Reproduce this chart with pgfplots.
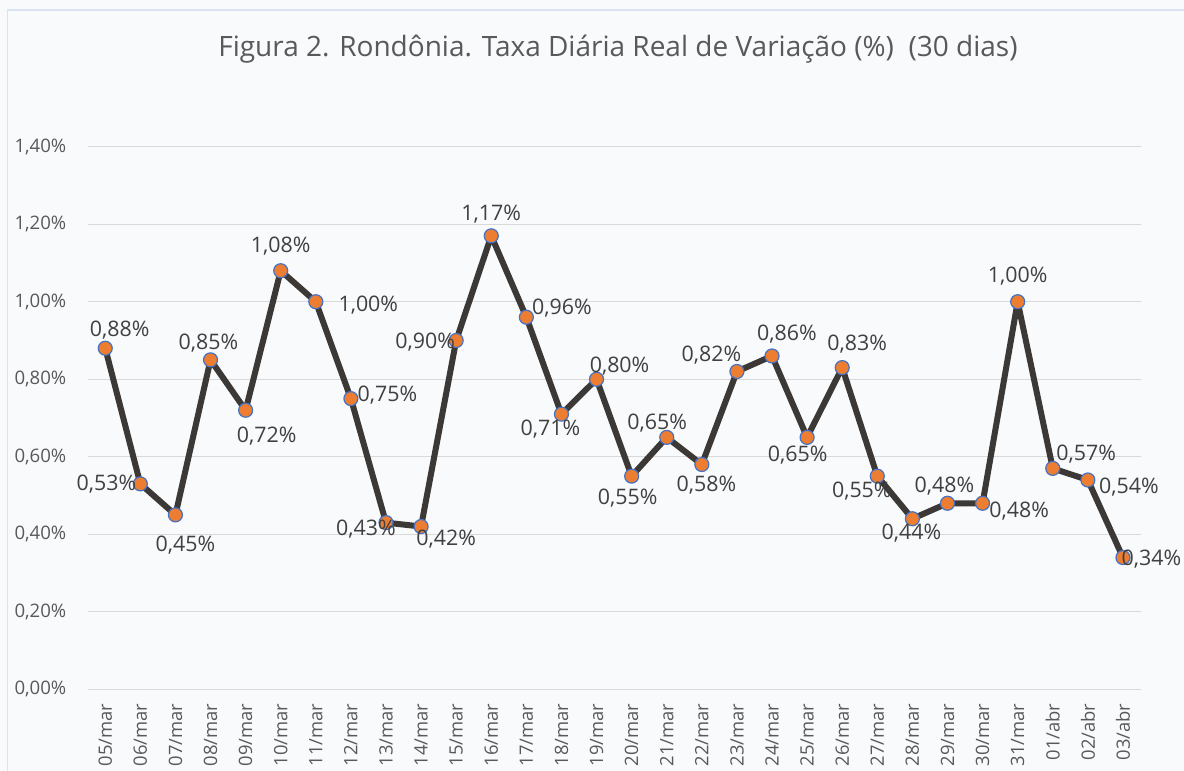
\documentclass[border=0pt]{standalone}
\usepackage{fontspec}
\setmainfont{Open Sans}
\usepackage{pgfplots}
\pgfplotsset{compat=1.18}
\usepackage{pgfplotstable}

\definecolor{txt}{RGB}{89,89,89}
\definecolor{lbl}{RGB}{64,64,64}
\definecolor{grd}{RGB}{217,217,217}
\definecolor{ln}{RGB}{59,56,54}
\definecolor{mk}{RGB}{237,125,49}
\definecolor{mkedge}{RGB}{68,114,196}
\definecolor{bg}{RGB}{248,250,252}
\definecolor{frm}{RGB}{218,227,243}

% x = dia (0 = 05/mar), y = taxa (%), dx/dy = deslocamento do rotulo (pt)
\pgfplotstableread{
x y dx dy
0 0.88 7.25 9
1 0.53 -17 0
2 0.45 5 -15.25
3 0.85 -1 8.5
4 0.72 10.5 -13
5 1.08 0 12.5
6 1.00 26.25 -1.5
7 0.75 18.25 1.5
8 0.43 -10 -3.25
9 0.42 12.5 -6.25
10 0.90 -15.5 -1
11 1.17 0 11
12 0.96 17.75 4.5
13 0.71 -5.5 -7.5
14 0.80 11.5 6.75
15 0.55 -2 -10.75
16 0.65 -4.75 7.25
17 0.58 2.25 -10.25
18 0.82 -12.75 8
19 0.86 7.5 11
20 0.65 -4.75 -9
21 0.83 7.5 11.75
22 0.55 -7.75 -7.5
23 0.44 -0.5 -7.25
24 0.48 -1.5 8.5
25 0.48 18.25 -3.75
26 1.00 0 13
27 0.57 16.75 7.25
28 0.54 20.5 -3.75
29 0.34 14.25 -0.75
}\taxa

\begin{document}
\begin{tikzpicture}
\path[use as bounding box, fill=bg] (0,0) rectangle (592pt,385.5pt);
\draw[frm, line width=0.75pt] (3.7pt,-10pt) rectangle (600pt,380.5pt);
\node[anchor=base, text=txt, font=\fontsize{14}{16}\selectfont] at (309pt,357pt)
  {Figura 2. Rondônia. Taxa Diária Real de Variação (\%)\ \ (30 dias)};
\begin{axis}[
    at={(43.85pt,40.85pt)}, anchor=south west,
    scale only axis, width=526.4pt, height=271.3pt,
    xmin=-0.5, xmax=29.5, ymin=0, ymax=1.4,
    clip=false,
    axis line style={draw=none},
    major tick length=0pt,
    ymajorgrids,
    grid style={grd, line width=0.6pt},
    ytick={0,0.2,0.4,0.6,0.8,1.0,1.2,1.4},
    /pgf/number format/assume math mode=true,
    yticklabel={\pgfmathprintnumber[fixed,fixed zerofill,precision=2,use comma]{\tick}\%},
    yticklabel style={anchor=east, inner sep=0pt, xshift=-10.5pt, text=txt, font=\fontsize{9.3}{11}\selectfont},
    xtick={0,...,29},
    xticklabels={05/mar,06/mar,07/mar,08/mar,09/mar,10/mar,11/mar,12/mar,13/mar,14/mar,15/mar,16/mar,17/mar,18/mar,19/mar,20/mar,21/mar,22/mar,23/mar,24/mar,25/mar,26/mar,27/mar,28/mar,29/mar,30/mar,31/mar,01/abr,02/abr,03/abr},
    xticklabel style={yshift=-7pt, rotate=90, anchor=east, inner sep=0pt, text=txt, font=\fontsize{9.2}{10}\selectfont},
  ]
\addplot[ln, line width=3pt, line join=round, mark=*, mark size=3.5pt,
    mark options={fill=mk, draw=mkedge, line width=0.6pt},
    point meta=y,
    visualization depends on={\thisrow{dx}\as\ldx},
    visualization depends on={\thisrow{dy}\as\ldy},
    nodes near coords={\pgfmathprintnumber[fixed,fixed zerofill,precision=2,use comma]{\pgfplotspointmeta}\%},
    every node near coord/.append style={anchor=center, xshift=\ldx pt, yshift=\ldy pt,
      inner sep=0pt, text=lbl, font=\fontsize{10.7}{12}\selectfont}]
  table[x=x, y=y] {\taxa};
\end{axis}
\end{tikzpicture}
\end{document}
